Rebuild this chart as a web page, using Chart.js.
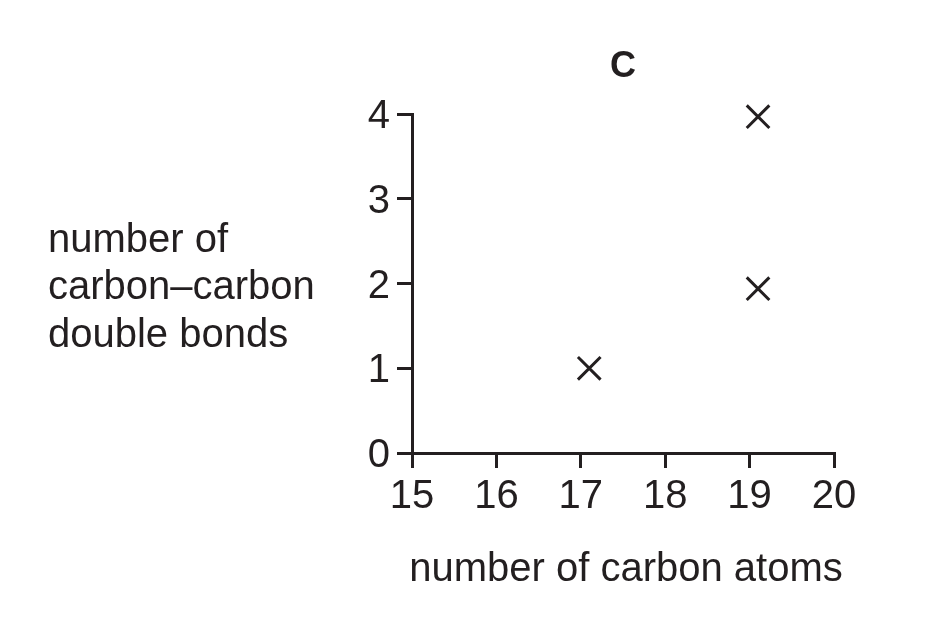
<!DOCTYPE html>
<html lang="en">
<head>
  <meta charset="UTF-8">
  <title>C</title>
  <script src="https://cdn.jsdelivr.net/npm/chart.js"></script>
  <style>
    html, body { margin: 0; padding: 0; background: #fff; }
    #wrap { width: 932px; height: 634px; }
  </style>
</head>
<body>
  <div id="wrap"><canvas id="chart" width="932" height="634"></canvas></div>

  <script>
    // values
    const carbonAtoms = [17.1, 19.1, 19.1];
    const doubleBonds = [1, 3.97, 1.94];
    const xTicks = [15, 16, 17, 18, 19, 20];
    const yTicks = [0, 1, 2, 3, 4];
    const xTitle = 'number of carbon atoms';
    const yTitleLines = ['number of', 'carbon\u2013carbon', 'double bonds'];

    const ink = '#231f20';
    const family = "'Liberation Sans', Arial, Helvetica, sans-serif";

    // both axis titles are wider than Chart.js allows (it squeezes them), so draw them by hand
    const axisTitles = {
      id: 'axisTitles',
      afterDraw(chart) {
        const ctx = chart.ctx;
        const area = chart.chartArea;
        ctx.save();
        ctx.fillStyle = ink;
        ctx.font = '40px ' + family;
        ctx.textBaseline = 'alphabetic';

        ctx.textAlign = 'left';
        const baselines = [252, 299, 347];
        yTitleLines.forEach((line, i) => ctx.fillText(line, 48, baselines[i]));

        ctx.textAlign = 'center';
        ctx.fillText(xTitle, (area.left + area.right) / 2 + 3, area.bottom + 128);
        ctx.restore();
      }
    };

    const ctx = document.getElementById('chart').getContext('2d');
    new Chart(ctx, {
      type: 'scatter',
      data: {
        datasets: [{
          data: carbonAtoms.map((x, i) => ({ x: x, y: doubleBonds[i] })),
          pointStyle: 'crossRot',
          pointRadius: 16,
          pointHoverRadius: 16,
          borderWidth: 3,
          borderColor: ink,
          backgroundColor: ink,
          showLine: false,
          clip: false
        }]
      },
      options: {
        responsive: false,
        animation: false,
        layout: { padding: { left: 0, right: 98, top: 0, bottom: 0 } },
        plugins: {
          legend: { display: false },
          tooltip: { enabled: false },
          title: {
            display: true,
            text: 'C',
            color: ink,
            fullSize: false,
            font: { family: family, size: 36, weight: 'bold', lineHeight: 1.2 },
            padding: { top: 45, bottom: 26 }
          }
        },
        scales: {
          x: {
            type: 'linear',
            min: xTicks[0],
            max: xTicks[xTicks.length - 1],
            afterFit: scale => { scale.height = 181; },
            afterBuildTicks: scale => { scale.ticks = xTicks.map(v => ({ value: v })); },
            border: { display: true, width: 3, color: ink },
            grid: { drawOnChartArea: false, drawTicks: true, tickLength: 15, lineWidth: 3, color: ink },
            ticks: {
              color: ink,
              padding: 5,
              font: { family: family, size: 40, lineHeight: 1.2 }
            }
          },
          y: {
            type: 'linear',
            min: yTicks[0],
            max: yTicks[yTicks.length - 1],
            afterFit: scale => { scale.width = 412; },
            afterBuildTicks: scale => { scale.ticks = yTicks.map(v => ({ value: v })); },
            border: { display: true, width: 3, color: ink },
            grid: { drawOnChartArea: false, drawTicks: true, tickLength: 15, lineWidth: 3, color: ink },
            ticks: {
              color: ink,
              padding: 7,
              labelOffset: 3,
              font: { family: family, size: 40, lineHeight: 1.2 }
            }
          }
        }
      },
      plugins: [axisTitles]
    });
  </script>
</body>
</html>
